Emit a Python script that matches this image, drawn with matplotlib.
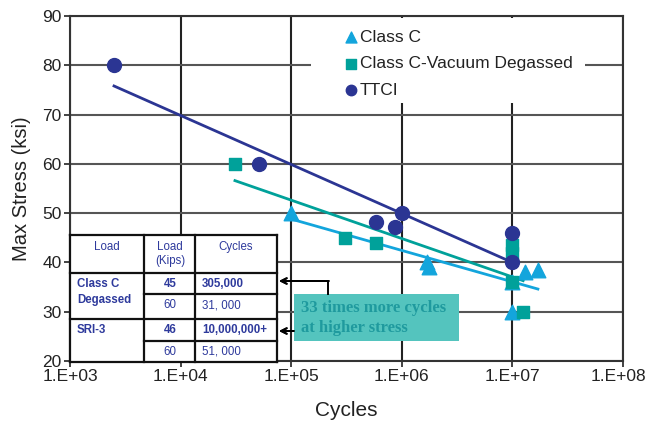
import matplotlib.pyplot as plt
from matplotlib.lines import Line2D
from matplotlib.patches import Rectangle
from matplotlib.transforms import ScaledTranslation

W, H = 649, 421

# measured points (cycles, max stress ksi)
class_c_cycles = [1.0e5, 1.7e6, 1.75e6, 1.0e7, 1.3e7, 1.7e7, 1.0e7]
class_c_stress = [50, 40, 39, 36, 38, 38.5, 30]
vd_cycles = [31000, 305000, 590000, 1.0e7, 1.0e7, 1.0e7, 1.25e7]
vd_stress = [60, 45, 44, 43.5, 42, 36, 30]
ttci_cycles = [2500, 51000, 590000, 870000, 1.0e6, 1.0e7, 1.0e7]
ttci_stress = [80, 60, 48.2, 47.2, 50, 46, 40]

# trend lines, end points
class_c_fit_x = [1.0e5, 1.7e7]
class_c_fit_y = [48.8, 34.6]
vd_fit_x = [31000, 1.25e7]
vd_fit_y = [56.6, 36.3]
ttci_fit_x = [2500, 1.0e7]
ttci_fit_y = [75.8, 40]

x_ticks = [1e3, 1e4, 1e5, 1e6, 1e7, 1e8]
x_tick_labels = ["1.E+03", "1.E+04", "1.E+05", "1.E+06", "1.E+07", "1.E+08"]
y_ticks = [20, 30, 40, 50, 60, 70, 80, 90]

table_header = ["Load", "Load\n(Kips)", "Cycles"]
table_groups = ["Class C\nDegassed", "SRI-3"]
table_loads = [["45", "60"], ["46", "60"]]
table_cycles = [["305,000", "31, 000"], ["10,000,000+", "51, 000"]]

LIGHT_BLUE = "#13a5dc"
TEAL = "#00a19a"
NAVY = "#2b3593"
TABLE_TXT = "#2e3a9c"

plt.rcParams["font.family"] = ["Liberation Sans", "DejaVu Sans"]


def fp(x, y):
    # pixel position (from top left) -> figure fraction
    return x / W, 1 - y / H


fig = plt.figure(figsize=(W / 100, H / 100), dpi=100)
ax = fig.add_axes([70 / W, 1 - 361 / H, 553 / W, 345 / H])

ax.set_xscale("log")
ax.set_xlim(1e3, 1e8)
ax.set_ylim(20, 90)
ax.set_xticks(x_ticks)
ax.set_xticklabels(x_tick_labels)
ax.minorticks_off()
ax.set_yticks(y_ticks)
ax.tick_params(labelsize=12.5, colors="#222222", length=4, width=1.2, pad=2)
ax.grid(axis="x", color="#222222", lw=1.5, zorder=0)
ax.grid(axis="y", color="#555555", lw=1.5, zorder=0)
for sp in ax.spines.values():
    sp.set_color("#333333")
    sp.set_linewidth(1.5)
    sp.set_zorder(5)

# last tick label sits a bit to the left so it stays inside the picture
last = ax.get_xticklabels()[-1]
last.set_transform(last.get_transform() + ScaledTranslation(-0.05, 0, fig.dpi_scale_trans))

ax.plot(ttci_fit_x, ttci_fit_y, color=NAVY, lw=2, zorder=3)
ax.plot(vd_fit_x, vd_fit_y, color=TEAL, lw=2, zorder=3)
ax.plot(class_c_fit_x, class_c_fit_y, color=LIGHT_BLUE, lw=2, zorder=3)

h1 = ax.scatter(class_c_cycles, class_c_stress, marker="^", s=110, color=LIGHT_BLUE, zorder=4, label="Class C")
h2 = ax.scatter(vd_cycles, vd_stress, marker="s", s=75, color=TEAL, zorder=4, label="Class C-Vacuum Degassed")
h3 = ax.scatter(ttci_cycles, ttci_stress, marker="o", s=100, color=NAVY, zorder=4, label="TTCI")

ax.set_xlabel("Cycles", fontsize=15, color="#222222", labelpad=12)
ax.set_ylabel("Max Stress (ksi)", fontsize=14.5, color="#222222", labelpad=8)

# white area behind the legend (inside the axes, under the spines)
ax.add_patch(Rectangle(fp(311, 103), 274 / W, 85 / H, transform=fig.transFigure,
                       facecolor="white", edgecolor="none", zorder=2))
fig.legend(handles=[h1, h2, h3], loc="upper left", bbox_to_anchor=fp(338, 21),
           frameon=False, fontsize=12.5, handlelength=0.5, handletextpad=0.25,
           labelspacing=0.65, borderpad=0, scatterpoints=1, markerscale=0.75,
           labelcolor="#222222")

# table in the lower left corner
tl, tr, tt, tb = 70, 277, 235, 362
c1, c2 = 144, 195
x0, y0 = fp(tl, tb)
fig.add_artist(Rectangle((x0, y0), (tr - tl) / W, (tb - tt) / H, transform=fig.transFigure,
                         facecolor="white", edgecolor="none", zorder=1))


def hline(xa, xb, y):
    (a, yy), (b, _) = fp(xa, y), fp(xb, y)
    fig.add_artist(Line2D([a, b], [yy, yy], transform=fig.transFigure, color="#111111", lw=1.6, zorder=2))


def vline(x, ya, yb):
    (xx, a), (_, b) = fp(x, ya), fp(x, yb)
    fig.add_artist(Line2D([xx, xx], [a, b], transform=fig.transFigure, color="#111111", lw=1.6, zorder=2))


for y in (tt, 273, 319, tb):
    hline(tl, tr, y)
for y in (294, 341):
    hline(c1, tr, y)
for x in (tl, c1, c2, tr):
    vline(x, tt, tb)

fs = 8.3
fig.text(*fp(107, 247), table_header[0], ha="center", va="center", fontsize=fs, color=TABLE_TXT)
fig.text(*fp(170, 254), table_header[1], ha="center", va="center", fontsize=fs, color=TABLE_TXT,
         linespacing=1.3)
fig.text(*fp(236, 247), table_header[2], ha="center", va="center", fontsize=fs, color=TABLE_TXT)

group_rows = [(284, 305), (330, 352)]
for gi, (ya, yb) in enumerate(group_rows):
    two_lines = "\n" in table_groups[gi]
    fig.text(*fp(77, ya - 6 if two_lines else ya), table_groups[gi], ha="left",
             va="top" if two_lines else "center", fontsize=fs, color=TABLE_TXT,
             fontweight="bold", linespacing=1.4)
    for ri, y in enumerate((ya, yb)):
        w = "bold" if ri == 0 else "normal"
        fig.text(*fp(170, y), table_loads[gi][ri], ha="center", va="center", fontsize=fs,
                 color=TABLE_TXT, fontweight=w)
        fig.text(*fp(202, y), table_cycles[gi][ri], ha="left", va="center", fontsize=fs,
                 color=TABLE_TXT, fontweight=w)

# callout box
bx0, by0 = fp(294, 341)
fig.add_artist(Rectangle((bx0, by0), 165 / W, 47 / H, transform=fig.transFigure,
                         facecolor="#54c4be", edgecolor="none", zorder=2))
for txt, y in (("33 times more cycles", 308), ("at higher stress", 328)):
    fig.text(*fp(301, y), txt, ha="left", va="center", fontsize=12,
             family="Liberation Serif", fontweight="bold", color="#1f9a9e", zorder=3)

# arrows from the box back to the table
arrow = dict(arrowstyle="->", color="black", lw=1.4, shrinkA=0, shrinkB=0)
fig.add_artist(Line2D([fp(328, 0)[0]] * 2, [fp(0, 294)[1], fp(0, 281)[1]],
                      transform=fig.transFigure, color="black", lw=1.4, zorder=2))
fig.add_artist(plt.annotate("", xy=fp(279, 281), xytext=fp(328.7, 281), xycoords="figure fraction",
                            textcoords="figure fraction", arrowprops=arrow))
fig.add_artist(plt.annotate("", xy=fp(279, 331), xytext=fp(294, 331), xycoords="figure fraction",
                            textcoords="figure fraction", arrowprops=arrow))

fig.savefig("out.png", dpi=100)
